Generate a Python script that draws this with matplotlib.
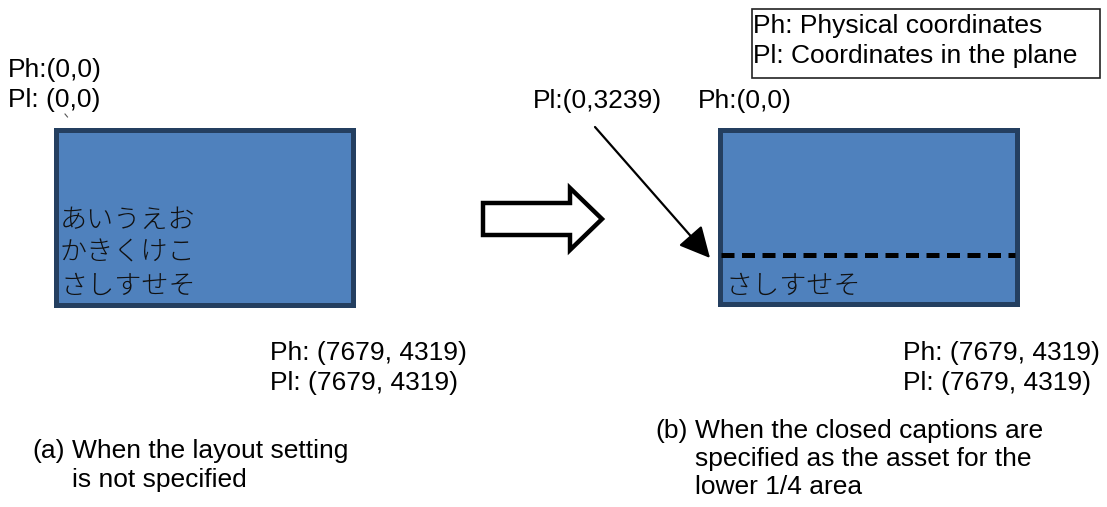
import matplotlib
matplotlib.use("Agg")
import matplotlib.pyplot as plt
from matplotlib.patches import Rectangle, Polygon

plt.rcParams['font.family'] = ['Liberation Sans', 'Noto Sans CJK JP', 'DejaVu Sans']

# ---- content ----
left_top_labels = ["Ph:(0,0)", "Pl: (0,0)"]
right_top_labels = ["Pl:(0,3239)", "Ph:(0,0)"]
bottom_labels = ["Ph: (7679, 4319)", "Pl: (7679, 4319)"]
legend_lines = ["Ph: Physical coordinates", "Pl: Coordinates in the plane"]
caption_a_tag = "(a)"
caption_a = ["When the layout setting", "is not specified"]
caption_b_tag = "(b)"
caption_b = ["When the closed captions are", "specified as the asset for the", "lower 1/4 area"]
jp_lines_full = ["あいうえお", "かきくけこ", "さしすせそ"]
jp_lines_lower = ["さしすせそ"]

FILL = "#4F81BD"
EDGE = "#243F60"
FS = 19
JFS = 19.5

W, H = 1107, 507
fig = plt.figure(figsize=(W / 100, H / 100), dpi=100)
ax = fig.add_axes([0, 0, 1, 1])
ax.set_xlim(0, W)
ax.set_ylim(H, 0)
ax.axis('off')

bw = 5  # border width px
lw_pt = bw * 0.72

def screen(x0, y0, x1, y1):
    ax.add_patch(Rectangle((x0 + bw / 2, y0 + bw / 2), (x1 - x0) - bw, (y1 - y0) - bw,
                           facecolor=FILL, edgecolor=EDGE, linewidth=lw_pt,
                           joinstyle='miter', zorder=2))

# ---- left panel ----
screen(53, 127, 355, 307)
for i, t in enumerate(left_top_labels):
    ax.text(8, 77 + 30 * i, t, fontsize=FS, va='baseline', ha='left', color='black')
ax.plot([65, 67.5], [114, 117], color='#555555', lw=0.8)
for i, t in enumerate(jp_lines_full):
    ax.text(60, 220 + 33 * i, t, fontsize=JFS, va='center', ha='left', color='#111111',
            family=['Noto Sans CJK JP'], fontweight='light', zorder=3)
for i, t in enumerate(bottom_labels):
    ax.text(270, 360 + 30 * i, t, fontsize=FS, va='baseline', ha='left')
ax.text(32, 458, caption_a_tag, fontsize=FS, va='baseline', ha='left')
for i, t in enumerate(caption_a):
    ax.text(72, 458 + 29 * i, t, fontsize=FS, va='baseline', ha='left')

# ---- hollow block arrow ----
ax.add_patch(Polygon([(483, 203), (570, 203), (570, 188), (602, 219), (570, 250),
                      (570, 235), (483, 235)], closed=True, facecolor='white',
                     edgecolor='black', linewidth=3.2, joinstyle='miter', zorder=2))

# ---- right panel ----
screen(717, 127, 1019, 306)
ax.plot([721, 1015], [254.5, 254.5], color='black', lw=3.6, dashes=(2.6, 1.5),
        solid_capstyle='butt', dash_capstyle='butt', zorder=3)
for t in jp_lines_lower:
    ax.text(725, 286, t, fontsize=JFS, va='center', ha='left', color='#111111',
            family=['Noto Sans CJK JP'], fontweight='light', zorder=3)
ax.text(533, 108, right_top_labels[0], fontsize=FS, va='baseline', ha='left')
ax.text(698, 108, right_top_labels[1], fontsize=FS, va='baseline', ha='left')
ax.annotate("", xy=(710, 258), xytext=(595, 127),
            arrowprops=dict(arrowstyle='-|>,head_length=1.9,head_width=0.95',
                            mutation_scale=10, color='black', lw=1.6,
                            shrinkA=0, shrinkB=0), zorder=4)
for i, t in enumerate(bottom_labels):
    ax.text(903, 360 + 30 * i, t, fontsize=FS, va='baseline', ha='left')
ax.text(655, 438, caption_b_tag, fontsize=FS, va='baseline', ha='left')
for i, t in enumerate(caption_b):
    ax.text(695, 438 + 28 * i, t, fontsize=FS, va='baseline', ha='left')

# ---- legend box ----
ax.add_patch(Rectangle((752, 9), 348, 69, facecolor='white', edgecolor='#222222',
                       linewidth=1.2, zorder=2))
for i, t in enumerate(legend_lines):
    ax.text(753, 33 + 30 * i, t, fontsize=FS, va='baseline', ha='left', zorder=3)

fig.savefig("out.png", dpi=100)
